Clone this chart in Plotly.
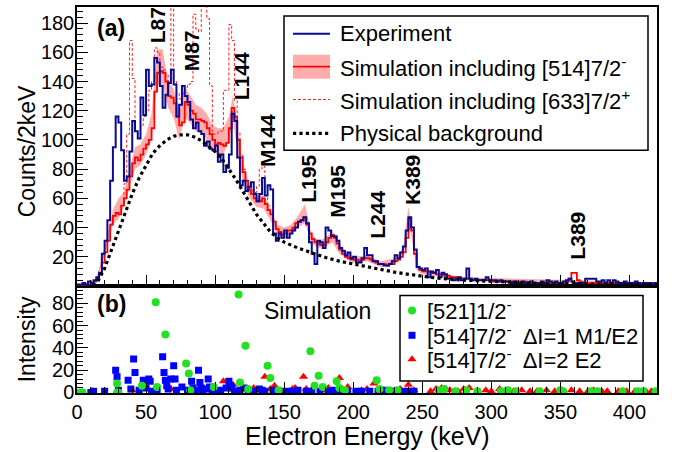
import numpy as np
import plotly.graph_objects as go

# ---------------- data ----------------
BIN = 2.0  # keV per bin
exp_counts = [
    1, 1, 2, 1, 3, 2, 4, 6, 9, 22,
    31, 45, 72, 95, 116, 112, 93, 72, 75, 92,
    113, 106, 101, 129, 117, 148, 137, 138, 156, 153,
    137, 122, 131, 139, 148, 138, 116, 124, 137, 130,
    126, 114, 108, 112, 106, 104, 96, 99, 94, 93,
    96, 85, 90, 78, 81, 90, 118, 113, 88, 69,
    72, 65, 68, 71, 63, 58, 63, 74, 62, 69,
    66, 36, 31, 36, 33, 38, 33, 36, 38, 40,
    44, 45, 47, 43, 30, 22, 15, 31, 30, 26,
    40, 38, 34, 34, 31, 26, 24, 21, 23, 19,
    20, 16, 16, 19, 26, 21, 21, 17, 17, 15,
    15, 14, 14, 15, 17, 21, 19, 23, 27, 38,
    47, 40, 25, 13, 12, 11, 12, 6, 10, 9,
    11, 6, 9, 8, 5, 5, 4, 5, 6, 4,
    5, 12, 5, 4, 5, 4, 4, 4, 6, 4,
    4, 4, 3, 4, 3, 3, 3, 2, 3, 2,
    2, 3, 2, 2, 3, 2, 2, 2, 3, 2,
    4, 3, 2, 3, 2, 2, 3, 4, 5, 3,
    2, 2, 2, 2, 5, 5, 5, 5, 3, 3,
    4, 2, 4, 2, 4, 3, 2, 2, 3, 2,
    2, 2, 3, 2, 1, 2, 2, 2, 1, 2,
]
sim514 = [
    0, 0, 0, 1, 1, 2, 3, 5, 8, 16,
    23, 31, 42, 48, 50, 49, 55, 60, 66, 75,
    84, 88, 86, 90, 94, 97, 100, 108, 133, 146,
    147, 146, 140, 130, 129, 125, 116, 110, 112, 126,
    124, 120, 118, 114, 114, 113, 112, 108, 104, 100,
    97, 98, 97, 96, 98, 108, 122, 116, 100, 88,
    78, 72, 66, 63, 60, 58, 58, 60, 56, 52,
    49, 44, 39, 37, 35, 36, 38, 38, 40, 43,
    44, 45, 47, 42, 36, 32, 30, 29, 28, 28,
    30, 33, 35, 33, 29, 25, 22, 20, 19, 18,
    18, 18, 17, 18, 19, 19, 18, 17, 16, 15,
    15, 15, 14, 15, 15, 17, 18, 20, 23, 33,
    46, 38, 22, 13, 11, 10, 10, 10, 9, 9,
    8, 8, 8, 7, 7, 6, 6, 6, 5, 5,
    5, 5, 5, 4, 4, 4, 4, 4, 4, 4,
    3, 3, 3, 3, 3, 3, 3, 3, 3, 3,
    3, 3, 3, 2, 2, 2, 2, 2, 2, 2,
    2, 2, 2, 2, 2, 2, 2, 3, 5, 9,
    9, 4, 3, 2, 2, 2, 2, 2, 2, 2,
    2, 2, 2, 2, 2, 2, 2, 2, 2, 2,
    2, 2, 2, 2, 2, 2, 2, 2, 2, 2,
]
# [633]7/2+ simulation where it departs from the [514] one (bins from 30 keV)
sim633_start = 30.0
sim633 = [
    49, 55, 70, 104, 168, 142, 106, 104, 110, 116,
    120, 134, 140, 163, 160, 150, 148, 145, 140, 260,
    140, 132, 128, 132, 136, 138, 140, 186, 176, 174,
    260, 260, 183, 137, 104, 104, 106, 106, 134, 134,
    179, 168, 127, 105, 90, 80, 72, 68, 66, 64,
    68, 80, 82, 62, 55,
]
band_e = [14, 18, 22, 26, 30, 34, 38, 42, 46, 50, 54, 58, 62, 66, 70, 74, 78, 82,
          86, 90, 94, 98, 102, 106, 110, 113, 116, 120, 125, 130, 135, 140, 145,
          150, 155, 160, 165, 170, 175, 180, 185, 190, 200, 210, 220, 230, 236,
          240, 242, 246, 250, 260, 280, 420]
band_lo = [4, 14, 28, 42, 46, 55, 68, 80, 83, 90, 100, 138, 138, 122, 115, 100, 115,
           112, 106, 105, 100, 93, 90, 90, 100, 114, 92, 72, 60, 54, 53, 45, 35,
           32, 35, 40, 43, 29, 26, 27, 30, 22, 16, 17, 13, 15, 20, 42, 35, 11, 8,
           7, 4, 1.5]
band_hi = [6, 19, 35, 52, 60, 64, 80, 95, 97, 104, 118, 162, 162, 140, 135, 118, 137,
           130, 124, 122, 118, 110, 108, 108, 116, 131, 108, 84, 70, 62, 62, 53, 42,
           40, 42, 48, 56, 35, 31, 33, 38, 28, 20, 21, 17, 19, 26, 54, 44, 15, 12,
           9, 6, 2.5]
bg_e = [12, 15, 20, 25, 30, 35, 40, 45, 50, 55, 60, 65, 70, 75, 80, 85, 90, 95,
        100, 105, 110, 115, 120, 125, 130, 135, 140, 145, 150, 160, 170, 180, 190,
        200, 210, 220, 230, 240, 250, 260, 280, 300, 330, 360, 420]
bg_counts = [0, 3, 12, 25, 38, 51, 63, 74, 83, 91, 96, 100, 102.5, 103.5, 103.5, 102,
             99.5, 96, 92, 87, 80, 73, 65, 57, 49, 43, 37, 33, 30, 26, 22.5, 19.5,
             17, 15, 13, 11, 9.5, 8, 6.5, 5.5, 4, 3, 2, 1.5, 1]

green_e = [2, 4, 29, 29, 30, 47, 57, 58, 64, 79, 81, 82, 99, 117, 118, 122, 124, 138,
           140, 146, 169, 172, 175, 178, 188, 190, 194, 217, 219, 226, 232, 262, 266,
           274, 282, 290, 307, 312, 318, 335, 350, 352, 372, 377, 395, 406, 410, 419]
green_i = [0, 0, 8, 0, 0, 6, 81, 5, 52, 26, 17, 2, 5, 88, 9, 42, 3, 24, 13, 2, 37,
           6, 15, 5, 10, 4, 2, 11, 3, 2, 2, 2, 3, 1, 2, 1, 1, 2, 1, 1, 2, 1, 1, 1, 1,
           1, 1, 1]
blue_e = [10, 12, 20, 28, 29, 30, 37, 39, 41, 42, 45, 48, 50, 52, 53, 54, 55, 58, 62,
          63, 64, 65, 66, 68, 70, 71, 72, 76, 80, 83, 84, 86, 88, 89, 90, 91, 93, 95,
          96, 98, 101, 104, 108, 110, 111, 112, 114, 118, 121, 124, 128, 132, 134,
          136, 142, 148, 152, 156, 160, 166, 170, 176, 182, 186, 190, 196, 202, 206,
          212, 218, 222, 226, 230, 236, 240, 244]
blue_i = [0, 1, 1, 20, 14, 2, 11, 3, 30, 18, 2, 11, 4, 12, 10, 1, 0, 2, 32, 18, 11, 6,
          3, 12, 24, 12, 2, 5, 2, 10, 4, 2, 20, 9, 4, 1, 3, 12, 5, 2, 1, 2, 4, 10, 6,
          4, 1, 2, 4, 2, 1, 3, 2, 1, 2, 1, 1, 1, 2, 1, 1, 1, 1, 2, 1, 1, 1, 1, 1, 1, 2,
          1, 1, 1, 1, 1]
red_e = [11, 40, 68, 90, 106, 112, 113, 120, 128, 136, 140, 143, 156, 158, 164, 166,
         178, 182, 190, 192, 196, 206, 210, 215, 222, 234, 240, 244, 256, 260, 264,
         270, 276, 280, 284, 290, 296, 300, 306, 310, 316, 322, 328, 333, 340, 346,
         352, 358, 364, 370, 374, 380, 384, 392, 398, 404, 412, 416]
red_i = [1, 2, 3, 4, 10, 5, 7, 5, 4, 14, 3, 6, 3, 4, 14, 3, 2, 4, 13, 3, 5, 2, 3, 8,
         2, 3, 7, 2, 1, 3, 4, 2, 1, 3, 4, 1, 2, 1, 3, 1, 1, 2, 1, 1, 2, 1, 1, 2, 1, 1,
         2, 1, 1, 1, 1, 1, 1, 1]

x_ticks = [0, 50, 100, 150, 200, 250, 300, 350, 400]
peak_labels = ["L87", "M87", "L144", "M144", "L195", "M195", "L244", "K389", "L389"]
peak_e = [58, 82.6, 118.8, 138.4, 167.4, 188.4, 217.4, 242.8, 362.3]
peak_y = [178.5, 160.7, 143.6, 99.4, 73.5, 64.7, 49, 72.8, 34.7]

legend_top = ["Experiment", "Simulation including [514]7/2<sup>-</sup>",
              "Simulation including [633]7/2<sup>+</sup>", "Physical background"]
legend_bot = ["[521]1/2<sup>-</sup>", "[514]7/2<sup>-</sup>  ΔI=1 M1/E2",
              "[514]7/2<sup>-</sup>  ΔI=2 E2"]

# ---------------- layout geometry ----------------
W, H = 675, 452
ML, MR, MT, MB = 77, 18, 5, 59
PW, PH = W - ML - MR, H - MT - MB
SPLIT = 285  # pixel row separating panels
dom_split = (H - MB - SPLIT) / PH
XR = [0, 420]
YTOP = [0.3, 191]
YBOT = [-0.5, 96]

def px(xp):
    return (xp - ML) / PW

def py(yp):
    return (H - MB - yp) / PH

def bot_data(xp, yp):
    e = XR[0] + (xp - ML) * (XR[1] - XR[0]) / PW
    v = YBOT[0] + (H - MB - yp) * (YBOT[1] - YBOT[0]) / (H - MB - SPLIT)
    return e, v

FONT = "Liberation Sans, Arial, Helvetica, sans-serif"
BLUE_EXP = "#0a0a90"
BAND = "rgba(255,70,70,0.45)"
DASH = "3px,2px"

def step_xy(start, vals):
    edges = start + np.arange(len(vals) + 1) * BIN
    return edges, list(vals) + [vals[-1]]

fig = go.Figure()

# band
fig.add_trace(go.Scatter(x=band_e + band_e[::-1], y=band_hi + band_lo[::-1],
                         fill="toself", fillcolor=BAND,
                         line=dict(width=0), mode="lines", xaxis="x2", yaxis="y2",
                         hoverinfo="skip", showlegend=False))
# [633] dashed
sx, sy = step_xy(sim633_start, sim633)
fig.add_trace(go.Scatter(x=sx, y=sy, mode="lines", line_shape="hv",
                         line=dict(color="#ff2020", width=1, dash=DASH),
                         xaxis="x2", yaxis="y2", showlegend=False))
# [514] simulation
sx, sy = step_xy(0.0, sim514)
fig.add_trace(go.Scatter(x=sx, y=sy, mode="lines", line_shape="hv",
                         line=dict(color="#ff0000", width=1.8),
                         xaxis="x2", yaxis="y2", showlegend=False))
# experiment
sx, sy = step_xy(0.0, exp_counts)
fig.add_trace(go.Scatter(x=sx, y=sy, mode="lines", line_shape="hv",
                         line=dict(color=BLUE_EXP, width=2),
                         xaxis="x2", yaxis="y2", showlegend=False))
# background
fig.add_trace(go.Scatter(x=bg_e, y=bg_counts, mode="lines",
                         line=dict(color="black", width=3.2, dash="dot"),
                         xaxis="x2", yaxis="y2", showlegend=False))

# bottom panel scatter
fig.add_trace(go.Scatter(x=red_e, y=red_i, mode="markers",
                         marker=dict(symbol="triangle-up", size=8, color="#ff0000"),
                         xaxis="x", yaxis="y", showlegend=False))
fig.add_trace(go.Scatter(x=blue_e, y=blue_i, mode="markers",
                         marker=dict(symbol="square", size=7, color="#0000ff"),
                         xaxis="x", yaxis="y", showlegend=False))
fig.add_trace(go.Scatter(x=green_e, y=green_i, mode="markers",
                         marker=dict(symbol="circle", size=8, color="#22e022"),
                         xaxis="x", yaxis="y", showlegend=False))

# bottom legend markers
leg_rows_b = [310, 335, 359]
syms = [("circle", "#22e022", 8), ("square", "#0000ff", 7), ("triangle-up", "#ff0000", 8)]
for (sym, col, sz), yr in zip(syms, leg_rows_b):
    e, v = bot_data(412, yr)
    fig.add_trace(go.Scatter(x=[e], y=[v], mode="markers", cliponaxis=False,
                             marker=dict(symbol=sym, size=sz, color=col),
                             xaxis="x", yaxis="y", showlegend=False))

axis_common = dict(showgrid=False, zeroline=False, showline=True, linecolor="black",
                   linewidth=1.5, mirror=True, ticks="inside", ticklen=11,
                   tickwidth=1, tickcolor="black",
                   tickfont=dict(family=FONT, size=20, color="black"))

fig.update_layout(
    width=W, height=H, margin=dict(l=ML, r=MR, t=MT, b=MB),
    paper_bgcolor="white", plot_bgcolor="white", showlegend=False,
    xaxis=dict(domain=[0, 1], anchor="y", range=XR, tickmode="array",
               tickvals=x_ticks, ticktext=[str(t) for t in x_ticks],
               minor=dict(ticks="inside", ticklen=6, dtick=10, tickcolor="black"),
               **axis_common),
    xaxis2=dict(domain=[0, 1], anchor="y2", range=XR, matches="x", tickmode="array",
                tickvals=x_ticks, showticklabels=False,
                minor=dict(ticks="inside", ticklen=6, dtick=10, tickcolor="black"),
                **axis_common),
    yaxis=dict(domain=[0, dom_split], anchor="x", range=YBOT, tickmode="linear",
               tick0=0, dtick=20, ticklabelstandoff=-3,
               minor=dict(ticks="inside", ticklen=6, dtick=4, tickcolor="black"),
               **axis_common),
    yaxis2=dict(domain=[dom_split, 1], anchor="x2", range=YTOP, tickmode="linear",
                tick0=0, dtick=20, ticklabelstandoff=-3,
                minor=dict(ticks="inside", ticklen=6, dtick=4, tickcolor="black"),
                **axis_common),
)

def pann(text, xp, yp, size, angle=0, xanchor="center", bold=False):
    return dict(text=("<b>%s</b>" % text) if bold else text, x=px(xp), y=py(yp),
                xref="paper", yref="paper", xanchor=xanchor, yanchor="middle",
                textangle=angle, showarrow=False,
                font=dict(family=FONT, size=size, color="black"))

ann = []
# axis titles
ann.append(pann("Counts/2keV", 27, 150, 23, angle=-90))
ann.append(pann("Intensity", 27, 339, 23, angle=-90))
ann.append(pann("Electron Energy (keV)", 367, 436, 25))
# panel tags
ann.append(pann("(a)", 111, 26, 23, bold=True))
ann.append(pann("(b)", 111, 304, 23, bold=True))
ann.append(pann("Simulation", 317, 311, 23))
# peak labels
for lab, e, yv in zip(peak_labels, peak_e, peak_y):
    ann.append(dict(text="<b>%s</b>" % lab, x=e, y=yv, xref="x2", yref="y2",
                    xanchor="center", yanchor="middle",
                    textangle=-90, showarrow=False,
                    font=dict(family=FONT, size=21, color="black")))

shapes = []
# top legend box
shapes.append(dict(type="rect", xref="paper", yref="paper", x0=px(284), x1=px(648),
                   y0=py(149), y1=py(14), line=dict(color="black", width=1.5),
                   fillcolor="white", layer="above"))
rows_t = [32, 65, 98, 132]
shapes.append(dict(type="line", xref="paper", yref="paper", x0=px(293), x1=px(330),
                   y0=py(rows_t[0]), y1=py(rows_t[0]), line=dict(color=BLUE_EXP, width=2)))
shapes.append(dict(type="rect", xref="paper", yref="paper", x0=px(293), x1=px(330),
                   y0=py(rows_t[1] + 12), y1=py(rows_t[1] - 12),
                   line=dict(width=0), fillcolor=BAND))
shapes.append(dict(type="line", xref="paper", yref="paper", x0=px(293), x1=px(330),
                   y0=py(rows_t[1]), y1=py(rows_t[1]), line=dict(color="#ff0000", width=1.8)))
shapes.append(dict(type="line", xref="paper", yref="paper", x0=px(293), x1=px(330),
                   y0=py(rows_t[2]), y1=py(rows_t[2]),
                   line=dict(color="#ff2020", width=1, dash=DASH)))
shapes.append(dict(type="line", xref="paper", yref="paper", x0=px(293), x1=px(330),
                   y0=py(rows_t[3]), y1=py(rows_t[3]),
                   line=dict(color="black", width=3.2, dash="dot")))
for txt, yr in zip(legend_top, rows_t):
    ann.append(pann(txt, 338, yr, 22, xanchor="left"))
# bottom legend box
shapes.append(dict(type="rect", xref="paper", yref="paper", x0=px(400), x1=px(643),
                   y0=py(381), y1=py(295), line=dict(color="black", width=1.5),
                   fillcolor="rgba(0,0,0,0)"))
for txt, yr in zip(legend_bot, leg_rows_b):
    ann.append(pann(txt, 425, yr, 22, xanchor="left"))

fig.update_layout(annotations=ann, shapes=shapes)
fig.write_html("out.html", config={"displayModeBar": False},
               post_script="document.body.style.margin='0';")
